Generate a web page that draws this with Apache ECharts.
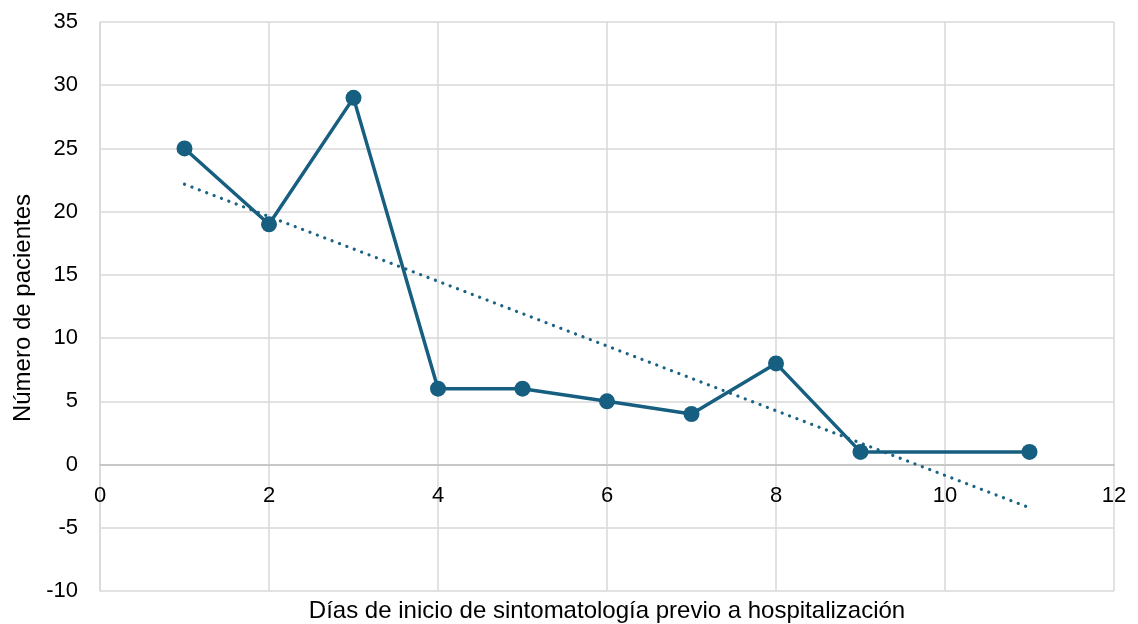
<!DOCTYPE html>
<html>
<head>
<meta charset="utf-8">
<script src="https://cdn.jsdelivr.net/npm/echarts@6/dist/echarts.min.js"></script>
<style>html,body{margin:0;padding:0;background:#fff}#c{width:1138px;height:624px}</style>
</head>
<body>
<div id="c"></div>
<script>
var days = [1, 2, 3, 4, 5, 6, 7, 8, 9, 11];
var patients = [25, 19, 29, 6, 6, 5, 4, 8, 1, 1];
var xTitle = 'Días de inicio de sintomatología previo a hospitalización';
var yTitle = 'Número de pacientes';

// linear trendline (least squares) from the data
var n = days.length, sx = 0, sy = 0, sxy = 0, sxx = 0;
for (var i = 0; i < n; i++) { sx += days[i]; sy += patients[i]; sxy += days[i]*patients[i]; sxx += days[i]*days[i]; }
var slope = (n*sxy - sx*sy) / (n*sxx - sx*sx);
var intercept = (sy - slope*sx) / n;
var trendX = [days[0], days[n-1]];

var yMin = -10, yMax = 35;
var gridTop = 22, gridBottom = 33, H = 624;
var plotH = H - gridTop - gridBottom;
var zeroOffset = -plotH * (0 - yMin) / (yMax - yMin);

var chart = echarts.init(document.getElementById('c'));
var font = 'Liberation Sans, Arial, sans-serif';
chart.setOption({
  animation: false,
  grid: {left: 100, right: 24, top: gridTop, bottom: gridBottom},
  xAxis: {
    type: 'value', min: 0, max: 12, interval: 2,
    offset: zeroOffset,
    axisLine: {show: true, onZero: false, lineStyle: {color: '#bfbfbf', width: 1.5}},
    axisTick: {show: false},
    axisLabel: {color: '#000', fontSize: 22, fontFamily: font, margin: 20},
    splitLine: {show: true, lineStyle: {color: '#d9d9d9', width: 1.5}}
  },
  yAxis: {
    type: 'value', min: yMin, max: yMax, interval: 5,
    axisLine: {show: true, lineStyle: {color: '#d9d9d9', width: 1.5}},
    axisTick: {show: false},
    axisLabel: {color: '#000', fontSize: 22, fontFamily: font, margin: 22},
    splitLine: {show: true, lineStyle: {color: '#d9d9d9', width: 1.5}}
  },
  graphic: [
    {type: 'text', x: 607, y: 611, style: {text: xTitle, fill: '#000', font: '24px ' + font, align: 'center', verticalAlign: 'middle'}},
    {type: 'text', x: 23, y: 308, rotation: Math.PI/2, style: {text: yTitle, fill: '#000', font: '24px ' + font, align: 'center', verticalAlign: 'middle'}}
  ],
  series: [
    {
      type: 'line', data: trendX.map(function(x){ return [x, intercept + slope*x]; }),
      symbol: 'none', silent: true, z: 1,
      lineStyle: {color: '#1a6384', width: 3.2, type: [0.1, 7.8], cap: 'round'}
    },
    {
      type: 'line', data: days.map(function(d, i){ return [d, patients[i]]; }),
      symbol: 'circle', symbolSize: 16, z: 2,
      itemStyle: {color: '#175f80'},
      lineStyle: {color: '#175f80', width: 3.5}
    }
  ]
});
</script>
</body>
</html>
